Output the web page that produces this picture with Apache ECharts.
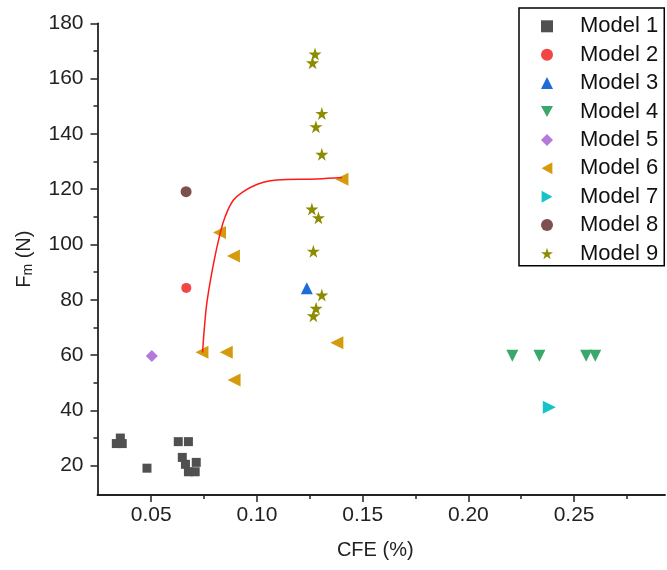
<!DOCTYPE html>
<html>
<head>
<meta charset="utf-8">
<script src="https://cdn.jsdelivr.net/npm/echarts@6/dist/echarts.min.js"></script>
<style>html,body{margin:0;padding:0;background:#fff}#c{width:667px;height:570px}</style>
</head>
<body>
<div id="c"></div>
<script>
var seriesNames = ['Model 1','Model 2','Model 3','Model 4','Model 5','Model 6','Model 7','Model 8','Model 9'];
var model1 = [[0.0335,28.0],[0.0363,28.0],[0.0354,30.0],[0.0480,19.1],[0.0628,28.7],[0.0676,28.7],[0.0647,23.0],[0.0662,20.5],[0.0676,17.8],[0.0708,17.8],[0.0713,21.2]];
var model2 = [[0.0666,84.3]];
var model3 = [[0.1236,84.2]];
var model4 = [[0.2208,59.8],[0.2336,59.8],[0.2557,59.8],[0.2600,59.8]];
var model5 = [[0.0503,59.7]];
var model6 = [[0.0740,61.0],[0.0855,61.0],[0.0892,51.0],[0.0823,104.3],[0.0889,95.8],[0.1402,123.6],[0.1378,64.5]];
var model7 = [[0.2383,41.1]];
var model8 = [[0.0665,119.1]];
var model9 = [[0.1275,168.9],[0.1263,165.7],[0.1307,147.4],[0.1279,142.6],[0.1307,132.6],[0.1260,112.8],[0.1291,109.7],[0.1267,97.6],[0.1307,81.7],[0.1280,76.9],[0.1267,74.2]];
var fitCurve = [[0.0743,61.0],[0.0752,70.3],[0.0765,79.9],[0.0795,93.2],[0.0826,104.0],[0.0850,110.1],[0.0889,116.1],[0.0936,119.1],[0.0976,120.9],[0.1031,122.5],[0.1094,123.3],[0.1283,123.7],[0.1402,124.2]];
var xTicks = [0.05,0.10,0.15,0.20,0.25];
var xMinorTicks = [0.075,0.125,0.175,0.225,0.275];
var yTicks = [20,40,60,80,100,120,140,160,180];
var yMinorTicks = [30,50,70,90,110,130,150,170];

var colors = ['#505050','#f24545','#1f6bd9','#3aa86a','#b47ad9','#d49c0c','#16c4c8','#7d4f4f','#8c8c00'];
var star = 'path://M50,0 L61,35 L98,35 L68,57 L79,91 L50,70 L21,91 L32,57 L2,35 L39,35 Z';
var downTri = 'path://M0,0 L10,0 L5,9 Z';
var leftTri = 'path://M9,0 L9,10 L0,5 Z';
var rightTri = 'path://M0,0 L9,5 L0,10 Z';
var symbols = ['rect','circle','triangle',downTri,'diamond',leftTri,rightTri,'circle',star];
var sizes = [9,10,12,12,12,13,13,11,13];
var datas = [model1,model2,model3,model4,model5,model6,model7,model8,model9];

var font = 'Arial, "Liberation Sans", sans-serif';
var series = datas.map(function(d,i){
  return {name: seriesNames[i], type:'scatter', data:d, symbol:symbols[i], symbolSize:sizes[i], itemStyle:{color:colors[i], opacity:1}, z:3};
});
series.push({name:'fit', type:'line', data:fitCurve, smooth:0.4, showSymbol:false, lineStyle:{color:'#ff1a1a', width:1.5}, itemStyle:{color:'#ff1a1a'}, z:4, silent:true});

var chart = echarts.init(document.getElementById('c'), null, {renderer:'canvas'});
chart.setOption({
  animation:false,
  backgroundColor:'#fff',
  grid:{left:97.5, top:23.3, right:2, bottom:75, outerBoundsMode:'none', containLabel:false},
  legend:{
    data: seriesNames.map(function(n,i){return {name:n, icon:symbols[i]};}),
    orient:'vertical', left:519, top:8,
    padding:[7.3,6,1.2,22], itemGap:6.4, itemWidth:12, itemHeight:12,
    borderColor:'#000', borderWidth:1.5, backgroundColor:'#fff',
    textStyle:{fontFamily:font, fontSize:22, lineHeight:22, color:'#111', padding:[0,0,0,22]},
    selectedMode:false
  },
  xAxis:[{
    type:'value', min:0.0246, max:0.293, position:'bottom',
    name:'CFE (%)', nameLocation:'middle', nameGap:45,
    nameTextStyle:{fontFamily:font, fontSize:20, color:'#222', padding:[0,12,0,0]},
    axisLine:{show:true, onZero:false, lineStyle:{color:'#222', width:1.8}},
    axisTick:{show:true, inside:false, length:7, customValues:xTicks, lineStyle:{color:'#222', width:1.5}},
    axisLabel:{show:true, margin:10, customValues:xTicks, fontFamily:font, fontSize:21, color:'#222', formatter:function(v){return v.toFixed(2);}},
    splitLine:{show:false}
  },{
    type:'value', min:0.0246, max:0.293, position:'bottom',
    axisLine:{show:false}, axisLabel:{show:false}, splitLine:{show:false},
    axisTick:{show:true, length:4, customValues:xMinorTicks, lineStyle:{color:'#222', width:1.5}}
  }],
  yAxis:[{
    type:'value', min:9.4, max:180, position:'left',
    name:'{a|F}{b|m}{a| (N)}', nameLocation:'middle', nameGap:62, nameRotate:90,
    nameTextStyle:{fontFamily:font, fontSize:20, color:'#222', rich:{a:{fontFamily:font, fontSize:20, color:'#222'}, b:{fontFamily:font, fontSize:14, color:'#222', padding:[8,0,0,0]}}},
    axisLine:{show:true, onZero:false, lineStyle:{color:'#222', width:1.8}},
    axisTick:{show:true, inside:false, length:7, customValues:yTicks, lineStyle:{color:'#222', width:1.5}},
    axisLabel:{show:true, margin:14, customValues:yTicks, fontFamily:font, fontSize:21, color:'#222'},
    splitLine:{show:false}
  },{
    type:'value', min:9.4, max:180, position:'left',
    axisLine:{show:false}, axisLabel:{show:false}, splitLine:{show:false},
    axisTick:{show:true, length:4, customValues:yMinorTicks, lineStyle:{color:'#222', width:1.5}}
  }],
  series: series
});
</script>
</body>
</html>
